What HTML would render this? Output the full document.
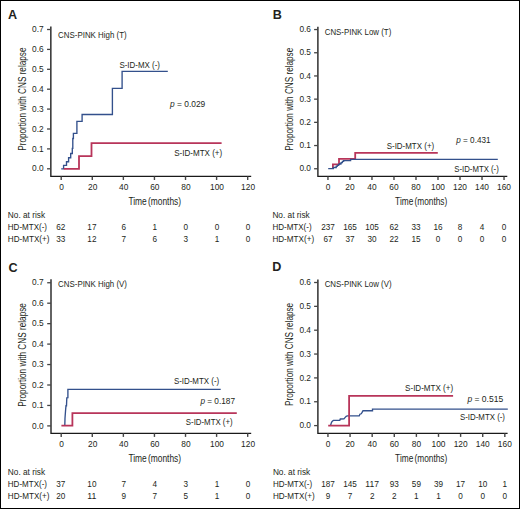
<!DOCTYPE html>
<html><head><meta charset="utf-8"><style>
html,body{margin:0;padding:0;background:#fff;}
body{width:520px;height:509px;overflow:hidden;}
.frame{position:absolute;left:0;top:0;width:518px;height:507px;border:1px solid #000;background:#fff;}
svg{position:absolute;left:0;top:0;}
text{font-family:"Liberation Sans", sans-serif;fill:#231f20;}
</style></head><body><div class="frame"></div>
<svg width="520" height="509" viewBox="0 0 520 509">
<path d="M50.85,26.4 L50.85,176.4 L251.2,176.4" fill="none" stroke="#1a1a1a" stroke-width="1.35" stroke-linejoin="miter"/>
<line x1="47.05" y1="168.8" x2="50.85" y2="168.8" stroke="#444" stroke-width="1.3"/>
<text x="43.6" y="171.4" font-size="9.4" text-anchor="end" textLength="11.6" lengthAdjust="spacingAndGlyphs">0.0</text>
<line x1="47.05" y1="148.9" x2="50.85" y2="148.9" stroke="#444" stroke-width="1.3"/>
<text x="43.6" y="151.5" font-size="9.4" text-anchor="end" textLength="11.6" lengthAdjust="spacingAndGlyphs">0.1</text>
<line x1="47.05" y1="129" x2="50.85" y2="129" stroke="#444" stroke-width="1.3"/>
<text x="43.6" y="131.6" font-size="9.4" text-anchor="end" textLength="11.6" lengthAdjust="spacingAndGlyphs">0.2</text>
<line x1="47.05" y1="109.1" x2="50.85" y2="109.1" stroke="#444" stroke-width="1.3"/>
<text x="43.6" y="111.7" font-size="9.4" text-anchor="end" textLength="11.6" lengthAdjust="spacingAndGlyphs">0.3</text>
<line x1="47.05" y1="89.2" x2="50.85" y2="89.2" stroke="#444" stroke-width="1.3"/>
<text x="43.6" y="91.8" font-size="9.4" text-anchor="end" textLength="11.6" lengthAdjust="spacingAndGlyphs">0.4</text>
<line x1="47.05" y1="69.3" x2="50.85" y2="69.3" stroke="#444" stroke-width="1.3"/>
<text x="43.6" y="71.9" font-size="9.4" text-anchor="end" textLength="11.6" lengthAdjust="spacingAndGlyphs">0.5</text>
<line x1="47.05" y1="49.4" x2="50.85" y2="49.4" stroke="#444" stroke-width="1.3"/>
<text x="43.6" y="52" font-size="9.4" text-anchor="end" textLength="11.6" lengthAdjust="spacingAndGlyphs">0.6</text>
<line x1="47.05" y1="29.5" x2="50.85" y2="29.5" stroke="#444" stroke-width="1.3"/>
<text x="43.6" y="32.1" font-size="9.4" text-anchor="end" textLength="11.6" lengthAdjust="spacingAndGlyphs">0.7</text>
<line x1="61.2" y1="176.4" x2="61.2" y2="180" stroke="#444" stroke-width="1.4"/>
<text x="61.6" y="190" font-size="9" text-anchor="middle" textLength="4.65" lengthAdjust="spacingAndGlyphs">0</text>
<line x1="92.28" y1="176.4" x2="92.28" y2="180" stroke="#444" stroke-width="1.4"/>
<text x="92.68" y="190" font-size="9" text-anchor="middle" textLength="9.3" lengthAdjust="spacingAndGlyphs">20</text>
<line x1="123.36" y1="176.4" x2="123.36" y2="180" stroke="#444" stroke-width="1.4"/>
<text x="123.76" y="190" font-size="9" text-anchor="middle" textLength="9.3" lengthAdjust="spacingAndGlyphs">40</text>
<line x1="154.44" y1="176.4" x2="154.44" y2="180" stroke="#444" stroke-width="1.4"/>
<text x="154.84" y="190" font-size="9" text-anchor="middle" textLength="9.3" lengthAdjust="spacingAndGlyphs">60</text>
<line x1="185.52" y1="176.4" x2="185.52" y2="180" stroke="#444" stroke-width="1.4"/>
<text x="185.92" y="190" font-size="9" text-anchor="middle" textLength="9.3" lengthAdjust="spacingAndGlyphs">80</text>
<line x1="216.6" y1="176.4" x2="216.6" y2="180" stroke="#444" stroke-width="1.4"/>
<text x="217" y="190" font-size="9" text-anchor="middle" textLength="13.95" lengthAdjust="spacingAndGlyphs">100</text>
<line x1="247.68" y1="176.4" x2="247.68" y2="180" stroke="#444" stroke-width="1.4"/>
<text x="248.08" y="190" font-size="9" text-anchor="middle" textLength="13.95" lengthAdjust="spacingAndGlyphs">120</text>
<text x="128.4" y="204.9" font-size="10.4" text-anchor="start" textLength="52.7" lengthAdjust="spacingAndGlyphs" word-spacing="-1.5">Time (months)</text>
<text x="25.8" y="150.8" font-size="10.4" text-anchor="start" textLength="103.3" lengthAdjust="spacingAndGlyphs" transform="rotate(-90 25.8 150.8)">Proportion with CNS relapse</text>
<text x="8" y="19" font-size="12.6" text-anchor="start" font-weight="bold" fill="#000">A</text>
<text x="58.1" y="37.6" font-size="9.1" text-anchor="start" textLength="68.5" lengthAdjust="spacingAndGlyphs">CNS-PINK High (T)</text>
<path d="M61.20,168.90 L63.60,168.90 L63.60,165.40 L66.50,165.40 L66.50,161.70 L68.60,161.70 L68.60,157.70 L70.70,157.70 L70.70,153.50 L72.30,153.50 L72.30,148.40 L72.80,148.40 L72.80,138.50 L73.40,138.50 L73.40,133.40 L76.90,133.40 L76.90,121.40 L82.10,121.40 L82.10,114.50 L112.40,114.50 L112.40,88.30 L122.10,88.30 L122.10,71.40 L167.80,71.40" fill="none" stroke="#33508c" stroke-width="1.35" stroke-linejoin="miter" stroke-linecap="butt"/>
<path d="M63.80,168.80 L79.00,168.80 L79.00,156.20 L91.50,156.20 L91.50,143.10 L221.60,143.10" fill="none" stroke="#b8355a" stroke-width="1.8" stroke-linejoin="miter" stroke-linecap="butt"/>
<text x="119.4" y="67.5" font-size="8.6" text-anchor="start" textLength="40.6" lengthAdjust="spacingAndGlyphs">S-ID-MX (-)</text>
<text x="174.2" y="156.4" font-size="8.6" text-anchor="start" textLength="48" lengthAdjust="spacingAndGlyphs">S-ID-MTX (+)</text>
<text x="170" y="107.2" font-size="8.6" textLength="35.3" lengthAdjust="spacingAndGlyphs"><tspan font-style="italic">p</tspan> = 0.029</text>
<text x="7.8" y="217.8" font-size="8.8" text-anchor="start" textLength="37.3" lengthAdjust="spacingAndGlyphs">No. at risk</text>
<text x="7.8" y="229.7" font-size="8.8" text-anchor="start" textLength="39.2" lengthAdjust="spacingAndGlyphs">HD-MTX(-)</text>
<text x="7.8" y="241.7" font-size="8.8" text-anchor="start" textLength="41.7" lengthAdjust="spacingAndGlyphs">HD-MTX(+)</text>
<text x="60.8" y="229.7" font-size="8.6" text-anchor="middle" textLength="9.1" lengthAdjust="spacingAndGlyphs">62</text>
<text x="91.88" y="229.7" font-size="8.6" text-anchor="middle" textLength="9.1" lengthAdjust="spacingAndGlyphs">17</text>
<text x="123.66" y="229.7" font-size="8.6" text-anchor="middle" textLength="4.55" lengthAdjust="spacingAndGlyphs">6</text>
<text x="154.74" y="229.7" font-size="8.6" text-anchor="middle" textLength="4.55" lengthAdjust="spacingAndGlyphs">1</text>
<text x="185.82" y="229.7" font-size="8.6" text-anchor="middle" textLength="4.55" lengthAdjust="spacingAndGlyphs">0</text>
<text x="216.9" y="229.7" font-size="8.6" text-anchor="middle" textLength="4.55" lengthAdjust="spacingAndGlyphs">0</text>
<text x="247.98" y="229.7" font-size="8.6" text-anchor="middle" textLength="4.55" lengthAdjust="spacingAndGlyphs">0</text>
<text x="60.8" y="241.7" font-size="8.6" text-anchor="middle" textLength="9.1" lengthAdjust="spacingAndGlyphs">33</text>
<text x="91.88" y="241.7" font-size="8.6" text-anchor="middle" textLength="9.1" lengthAdjust="spacingAndGlyphs">12</text>
<text x="123.66" y="241.7" font-size="8.6" text-anchor="middle" textLength="4.55" lengthAdjust="spacingAndGlyphs">7</text>
<text x="154.74" y="241.7" font-size="8.6" text-anchor="middle" textLength="4.55" lengthAdjust="spacingAndGlyphs">6</text>
<text x="185.82" y="241.7" font-size="8.6" text-anchor="middle" textLength="4.55" lengthAdjust="spacingAndGlyphs">3</text>
<text x="216.9" y="241.7" font-size="8.6" text-anchor="middle" textLength="4.55" lengthAdjust="spacingAndGlyphs">1</text>
<text x="247.98" y="241.7" font-size="8.6" text-anchor="middle" textLength="4.55" lengthAdjust="spacingAndGlyphs">0</text>
<path d="M317.9,26.7 L317.9,176.4 L507.3,176.4" fill="none" stroke="#1a1a1a" stroke-width="1.35" stroke-linejoin="miter"/>
<line x1="314.1" y1="168.75" x2="317.9" y2="168.75" stroke="#444" stroke-width="1.3"/>
<text x="311" y="171.35" font-size="9.4" text-anchor="end" textLength="11.6" lengthAdjust="spacingAndGlyphs">0.0</text>
<line x1="314.1" y1="145.55" x2="317.9" y2="145.55" stroke="#444" stroke-width="1.3"/>
<text x="311" y="148.15" font-size="9.4" text-anchor="end" textLength="11.6" lengthAdjust="spacingAndGlyphs">0.1</text>
<line x1="314.1" y1="122.35" x2="317.9" y2="122.35" stroke="#444" stroke-width="1.3"/>
<text x="311" y="124.95" font-size="9.4" text-anchor="end" textLength="11.6" lengthAdjust="spacingAndGlyphs">0.2</text>
<line x1="314.1" y1="99.15" x2="317.9" y2="99.15" stroke="#444" stroke-width="1.3"/>
<text x="311" y="101.75" font-size="9.4" text-anchor="end" textLength="11.6" lengthAdjust="spacingAndGlyphs">0.3</text>
<line x1="314.1" y1="75.95" x2="317.9" y2="75.95" stroke="#444" stroke-width="1.3"/>
<text x="311" y="78.55" font-size="9.4" text-anchor="end" textLength="11.6" lengthAdjust="spacingAndGlyphs">0.4</text>
<line x1="314.1" y1="52.75" x2="317.9" y2="52.75" stroke="#444" stroke-width="1.3"/>
<text x="311" y="55.35" font-size="9.4" text-anchor="end" textLength="11.6" lengthAdjust="spacingAndGlyphs">0.5</text>
<line x1="314.1" y1="29.55" x2="317.9" y2="29.55" stroke="#444" stroke-width="1.3"/>
<text x="311" y="32.15" font-size="9.4" text-anchor="end" textLength="11.6" lengthAdjust="spacingAndGlyphs">0.6</text>
<line x1="327.95" y1="176.4" x2="327.95" y2="180" stroke="#444" stroke-width="1.4"/>
<text x="327.95" y="190" font-size="9" text-anchor="middle" textLength="4.65" lengthAdjust="spacingAndGlyphs">0</text>
<line x1="349.96" y1="176.4" x2="349.96" y2="180" stroke="#444" stroke-width="1.4"/>
<text x="349.96" y="190" font-size="9" text-anchor="middle" textLength="9.3" lengthAdjust="spacingAndGlyphs">20</text>
<line x1="371.97" y1="176.4" x2="371.97" y2="180" stroke="#444" stroke-width="1.4"/>
<text x="371.97" y="190" font-size="9" text-anchor="middle" textLength="9.3" lengthAdjust="spacingAndGlyphs">40</text>
<line x1="393.98" y1="176.4" x2="393.98" y2="180" stroke="#444" stroke-width="1.4"/>
<text x="393.98" y="190" font-size="9" text-anchor="middle" textLength="9.3" lengthAdjust="spacingAndGlyphs">60</text>
<line x1="415.99" y1="176.4" x2="415.99" y2="180" stroke="#444" stroke-width="1.4"/>
<text x="415.99" y="190" font-size="9" text-anchor="middle" textLength="9.3" lengthAdjust="spacingAndGlyphs">80</text>
<line x1="438" y1="176.4" x2="438" y2="180" stroke="#444" stroke-width="1.4"/>
<text x="438" y="190" font-size="9" text-anchor="middle" textLength="13.95" lengthAdjust="spacingAndGlyphs">100</text>
<line x1="460.01" y1="176.4" x2="460.01" y2="180" stroke="#444" stroke-width="1.4"/>
<text x="460.01" y="190" font-size="9" text-anchor="middle" textLength="13.95" lengthAdjust="spacingAndGlyphs">120</text>
<line x1="482.02" y1="176.4" x2="482.02" y2="180" stroke="#444" stroke-width="1.4"/>
<text x="482.02" y="190" font-size="9" text-anchor="middle" textLength="13.95" lengthAdjust="spacingAndGlyphs">140</text>
<line x1="504.03" y1="176.4" x2="504.03" y2="180" stroke="#444" stroke-width="1.4"/>
<text x="504.03" y="190" font-size="9" text-anchor="middle" textLength="13.95" lengthAdjust="spacingAndGlyphs">160</text>
<text x="395.1" y="204.9" font-size="10.4" text-anchor="start" textLength="52.2" lengthAdjust="spacingAndGlyphs" word-spacing="-1.5">Time (months)</text>
<text x="293" y="150.8" font-size="10.4" text-anchor="start" textLength="103" lengthAdjust="spacingAndGlyphs" transform="rotate(-90 293 150.8)">Proportion with CNS relapse</text>
<text x="272.7" y="18.9" font-size="12.6" text-anchor="start" font-weight="bold" fill="#000">B</text>
<text x="324.7" y="35.2" font-size="9.1" text-anchor="start" textLength="66.6" lengthAdjust="spacingAndGlyphs">CNS-PINK Low (T)</text>
<path d="M332.90,168.60 L332.90,164.30 L339.00,164.30 L339.00,158.80 L355.20,158.80 L355.20,152.80 L437.80,152.80" fill="none" stroke="#b8355a" stroke-width="1.8" stroke-linejoin="miter" stroke-linecap="butt"/>
<path d="M328.20,168.60 L333.30,168.60 L333.30,167.50 L336.20,167.50 L336.20,166.30 L337.20,166.30 L337.20,165.40 L338.50,165.40 L338.50,164.40 L339.80,164.40 L339.80,163.70 L341.10,163.70 L341.10,162.60 L342.40,162.60 L342.40,161.40 L343.60,161.40 L343.60,160.60 L350.60,160.60 L350.60,159.40 L497.80,159.40" fill="none" stroke="#33508c" stroke-width="1.35" stroke-linejoin="miter" stroke-linecap="butt"/>
<text x="386.7" y="149" font-size="8.6" text-anchor="start" textLength="47.5" lengthAdjust="spacingAndGlyphs">S-ID-MTX (+)</text>
<text x="454.3" y="171.7" font-size="8.6" text-anchor="start" textLength="44.5" lengthAdjust="spacingAndGlyphs">S-ID-MTX (-)</text>
<text x="456.3" y="143" font-size="8.6" textLength="34.2" lengthAdjust="spacingAndGlyphs"><tspan font-style="italic">p</tspan> = 0.431</text>
<text x="272.4" y="217.8" font-size="8.8" text-anchor="start" textLength="37.3" lengthAdjust="spacingAndGlyphs">No. at risk</text>
<text x="272.4" y="229.7" font-size="8.8" text-anchor="start" textLength="39.2" lengthAdjust="spacingAndGlyphs">HD-MTX(-)</text>
<text x="272.4" y="241.7" font-size="8.8" text-anchor="start" textLength="41.7" lengthAdjust="spacingAndGlyphs">HD-MTX(+)</text>
<text x="327.95" y="229.7" font-size="8.6" text-anchor="middle" textLength="13.65" lengthAdjust="spacingAndGlyphs">237</text>
<text x="349.96" y="229.7" font-size="8.6" text-anchor="middle" textLength="13.65" lengthAdjust="spacingAndGlyphs">165</text>
<text x="371.97" y="229.7" font-size="8.6" text-anchor="middle" textLength="13.65" lengthAdjust="spacingAndGlyphs">105</text>
<text x="393.98" y="229.7" font-size="8.6" text-anchor="middle" textLength="9.1" lengthAdjust="spacingAndGlyphs">62</text>
<text x="415.99" y="229.7" font-size="8.6" text-anchor="middle" textLength="9.1" lengthAdjust="spacingAndGlyphs">33</text>
<text x="438" y="229.7" font-size="8.6" text-anchor="middle" textLength="9.1" lengthAdjust="spacingAndGlyphs">16</text>
<text x="460.01" y="229.7" font-size="8.6" text-anchor="middle" textLength="4.55" lengthAdjust="spacingAndGlyphs">8</text>
<text x="482.02" y="229.7" font-size="8.6" text-anchor="middle" textLength="4.55" lengthAdjust="spacingAndGlyphs">4</text>
<text x="504.03" y="229.7" font-size="8.6" text-anchor="middle" textLength="4.55" lengthAdjust="spacingAndGlyphs">0</text>
<text x="327.95" y="241.7" font-size="8.6" text-anchor="middle" textLength="9.1" lengthAdjust="spacingAndGlyphs">67</text>
<text x="349.96" y="241.7" font-size="8.6" text-anchor="middle" textLength="9.1" lengthAdjust="spacingAndGlyphs">37</text>
<text x="371.97" y="241.7" font-size="8.6" text-anchor="middle" textLength="9.1" lengthAdjust="spacingAndGlyphs">30</text>
<text x="393.98" y="241.7" font-size="8.6" text-anchor="middle" textLength="9.1" lengthAdjust="spacingAndGlyphs">22</text>
<text x="415.99" y="241.7" font-size="8.6" text-anchor="middle" textLength="9.1" lengthAdjust="spacingAndGlyphs">15</text>
<text x="438" y="241.7" font-size="8.6" text-anchor="middle" textLength="4.55" lengthAdjust="spacingAndGlyphs">0</text>
<text x="460.01" y="241.7" font-size="8.6" text-anchor="middle" textLength="4.55" lengthAdjust="spacingAndGlyphs">0</text>
<text x="482.02" y="241.7" font-size="8.6" text-anchor="middle" textLength="4.55" lengthAdjust="spacingAndGlyphs">0</text>
<text x="504.03" y="241.7" font-size="8.6" text-anchor="middle" textLength="4.55" lengthAdjust="spacingAndGlyphs">0</text>
<path d="M51,279.2 L51,433.3 L251.2,433.3" fill="none" stroke="#1a1a1a" stroke-width="1.35" stroke-linejoin="miter"/>
<line x1="47.2" y1="425.9" x2="51" y2="425.9" stroke="#444" stroke-width="1.3"/>
<text x="43.6" y="428.5" font-size="9.4" text-anchor="end" textLength="11.6" lengthAdjust="spacingAndGlyphs">0.0</text>
<line x1="47.2" y1="405.45" x2="51" y2="405.45" stroke="#444" stroke-width="1.3"/>
<text x="43.6" y="408.05" font-size="9.4" text-anchor="end" textLength="11.6" lengthAdjust="spacingAndGlyphs">0.1</text>
<line x1="47.2" y1="385" x2="51" y2="385" stroke="#444" stroke-width="1.3"/>
<text x="43.6" y="387.6" font-size="9.4" text-anchor="end" textLength="11.6" lengthAdjust="spacingAndGlyphs">0.2</text>
<line x1="47.2" y1="364.55" x2="51" y2="364.55" stroke="#444" stroke-width="1.3"/>
<text x="43.6" y="367.15" font-size="9.4" text-anchor="end" textLength="11.6" lengthAdjust="spacingAndGlyphs">0.3</text>
<line x1="47.2" y1="344.1" x2="51" y2="344.1" stroke="#444" stroke-width="1.3"/>
<text x="43.6" y="346.7" font-size="9.4" text-anchor="end" textLength="11.6" lengthAdjust="spacingAndGlyphs">0.4</text>
<line x1="47.2" y1="323.65" x2="51" y2="323.65" stroke="#444" stroke-width="1.3"/>
<text x="43.6" y="326.25" font-size="9.4" text-anchor="end" textLength="11.6" lengthAdjust="spacingAndGlyphs">0.5</text>
<line x1="47.2" y1="303.2" x2="51" y2="303.2" stroke="#444" stroke-width="1.3"/>
<text x="43.6" y="305.8" font-size="9.4" text-anchor="end" textLength="11.6" lengthAdjust="spacingAndGlyphs">0.6</text>
<line x1="47.2" y1="282.75" x2="51" y2="282.75" stroke="#444" stroke-width="1.3"/>
<text x="43.6" y="285.35" font-size="9.4" text-anchor="end" textLength="11.6" lengthAdjust="spacingAndGlyphs">0.7</text>
<line x1="61.2" y1="433.3" x2="61.2" y2="436.9" stroke="#444" stroke-width="1.4"/>
<text x="61.6" y="447.1" font-size="9" text-anchor="middle" textLength="4.65" lengthAdjust="spacingAndGlyphs">0</text>
<line x1="92.28" y1="433.3" x2="92.28" y2="436.9" stroke="#444" stroke-width="1.4"/>
<text x="92.68" y="447.1" font-size="9" text-anchor="middle" textLength="9.3" lengthAdjust="spacingAndGlyphs">20</text>
<line x1="123.36" y1="433.3" x2="123.36" y2="436.9" stroke="#444" stroke-width="1.4"/>
<text x="123.76" y="447.1" font-size="9" text-anchor="middle" textLength="9.3" lengthAdjust="spacingAndGlyphs">40</text>
<line x1="154.44" y1="433.3" x2="154.44" y2="436.9" stroke="#444" stroke-width="1.4"/>
<text x="154.84" y="447.1" font-size="9" text-anchor="middle" textLength="9.3" lengthAdjust="spacingAndGlyphs">60</text>
<line x1="185.52" y1="433.3" x2="185.52" y2="436.9" stroke="#444" stroke-width="1.4"/>
<text x="185.92" y="447.1" font-size="9" text-anchor="middle" textLength="9.3" lengthAdjust="spacingAndGlyphs">80</text>
<line x1="216.6" y1="433.3" x2="216.6" y2="436.9" stroke="#444" stroke-width="1.4"/>
<text x="217" y="447.1" font-size="9" text-anchor="middle" textLength="13.95" lengthAdjust="spacingAndGlyphs">100</text>
<line x1="247.68" y1="433.3" x2="247.68" y2="436.9" stroke="#444" stroke-width="1.4"/>
<text x="248.08" y="447.1" font-size="9" text-anchor="middle" textLength="13.95" lengthAdjust="spacingAndGlyphs">120</text>
<text x="128.4" y="461.9" font-size="10.4" text-anchor="start" textLength="52.7" lengthAdjust="spacingAndGlyphs" word-spacing="-1.5">Time (months)</text>
<text x="25.8" y="406.7" font-size="10.4" text-anchor="start" textLength="103.6" lengthAdjust="spacingAndGlyphs" transform="rotate(-90 25.8 406.7)">Proportion with CNS relapse</text>
<text x="8.4" y="271.9" font-size="12.6" text-anchor="start" font-weight="bold" fill="#000">C</text>
<text x="58.1" y="287.4" font-size="9.1" text-anchor="start" textLength="68.9" lengthAdjust="spacingAndGlyphs">CNS-PINK High (V)</text>
<path d="M64.80,425.60 L65.00,418.20 L65.60,410.00 L66.00,405.70 L66.50,405.70 L66.80,397.80 L67.90,397.60 L67.90,389.40 L220.70,389.40" fill="none" stroke="#33508c" stroke-width="1.35" stroke-linejoin="miter" stroke-linecap="butt"/>
<path d="M61.40,425.60 L72.40,425.60 L72.40,413.10 L236.80,413.10" fill="none" stroke="#b8355a" stroke-width="1.8" stroke-linejoin="miter" stroke-linecap="butt"/>
<text x="173.9" y="384.2" font-size="8.6" text-anchor="start" textLength="45.3" lengthAdjust="spacingAndGlyphs">S-ID-MTX (-)</text>
<text x="185.8" y="424.9" font-size="8.6" text-anchor="start" textLength="46.9" lengthAdjust="spacingAndGlyphs">S-ID-MTX (+)</text>
<text x="200.4" y="403.8" font-size="8.6" textLength="34.6" lengthAdjust="spacingAndGlyphs"><tspan font-style="italic">p</tspan> = 0.187</text>
<text x="7.8" y="474.9" font-size="8.8" text-anchor="start" textLength="37.3" lengthAdjust="spacingAndGlyphs">No. at risk</text>
<text x="7.8" y="486.8" font-size="8.8" text-anchor="start" textLength="39.2" lengthAdjust="spacingAndGlyphs">HD-MTX(-)</text>
<text x="7.8" y="498.8" font-size="8.8" text-anchor="start" textLength="41.7" lengthAdjust="spacingAndGlyphs">HD-MTX(+)</text>
<text x="60.8" y="486.8" font-size="8.6" text-anchor="middle" textLength="9.1" lengthAdjust="spacingAndGlyphs">37</text>
<text x="91.88" y="486.8" font-size="8.6" text-anchor="middle" textLength="9.1" lengthAdjust="spacingAndGlyphs">10</text>
<text x="123.66" y="486.8" font-size="8.6" text-anchor="middle" textLength="4.55" lengthAdjust="spacingAndGlyphs">7</text>
<text x="154.74" y="486.8" font-size="8.6" text-anchor="middle" textLength="4.55" lengthAdjust="spacingAndGlyphs">4</text>
<text x="185.82" y="486.8" font-size="8.6" text-anchor="middle" textLength="4.55" lengthAdjust="spacingAndGlyphs">3</text>
<text x="216.9" y="486.8" font-size="8.6" text-anchor="middle" textLength="4.55" lengthAdjust="spacingAndGlyphs">1</text>
<text x="247.98" y="486.8" font-size="8.6" text-anchor="middle" textLength="4.55" lengthAdjust="spacingAndGlyphs">0</text>
<text x="60.8" y="498.8" font-size="8.6" text-anchor="middle" textLength="9.1" lengthAdjust="spacingAndGlyphs">20</text>
<text x="91.88" y="498.8" font-size="8.6" text-anchor="middle" textLength="9.1" lengthAdjust="spacingAndGlyphs">11</text>
<text x="123.66" y="498.8" font-size="8.6" text-anchor="middle" textLength="4.55" lengthAdjust="spacingAndGlyphs">9</text>
<text x="154.74" y="498.8" font-size="8.6" text-anchor="middle" textLength="4.55" lengthAdjust="spacingAndGlyphs">7</text>
<text x="185.82" y="498.8" font-size="8.6" text-anchor="middle" textLength="4.55" lengthAdjust="spacingAndGlyphs">5</text>
<text x="216.9" y="498.8" font-size="8.6" text-anchor="middle" textLength="4.55" lengthAdjust="spacingAndGlyphs">1</text>
<text x="247.98" y="498.8" font-size="8.6" text-anchor="middle" textLength="4.55" lengthAdjust="spacingAndGlyphs">0</text>
<path d="M317.9,279.4 L317.9,433.3 L507.6,433.3" fill="none" stroke="#1a1a1a" stroke-width="1.35" stroke-linejoin="miter"/>
<line x1="314.1" y1="425.6" x2="317.9" y2="425.6" stroke="#444" stroke-width="1.3"/>
<text x="311" y="428.2" font-size="9.4" text-anchor="end" textLength="11.6" lengthAdjust="spacingAndGlyphs">0.0</text>
<line x1="314.1" y1="401.75" x2="317.9" y2="401.75" stroke="#444" stroke-width="1.3"/>
<text x="311" y="404.35" font-size="9.4" text-anchor="end" textLength="11.6" lengthAdjust="spacingAndGlyphs">0.1</text>
<line x1="314.1" y1="377.9" x2="317.9" y2="377.9" stroke="#444" stroke-width="1.3"/>
<text x="311" y="380.5" font-size="9.4" text-anchor="end" textLength="11.6" lengthAdjust="spacingAndGlyphs">0.2</text>
<line x1="314.1" y1="354.05" x2="317.9" y2="354.05" stroke="#444" stroke-width="1.3"/>
<text x="311" y="356.65" font-size="9.4" text-anchor="end" textLength="11.6" lengthAdjust="spacingAndGlyphs">0.3</text>
<line x1="314.1" y1="330.2" x2="317.9" y2="330.2" stroke="#444" stroke-width="1.3"/>
<text x="311" y="332.8" font-size="9.4" text-anchor="end" textLength="11.6" lengthAdjust="spacingAndGlyphs">0.4</text>
<line x1="314.1" y1="306.35" x2="317.9" y2="306.35" stroke="#444" stroke-width="1.3"/>
<text x="311" y="308.95" font-size="9.4" text-anchor="end" textLength="11.6" lengthAdjust="spacingAndGlyphs">0.5</text>
<line x1="314.1" y1="282.5" x2="317.9" y2="282.5" stroke="#444" stroke-width="1.3"/>
<text x="311" y="285.1" font-size="9.4" text-anchor="end" textLength="11.6" lengthAdjust="spacingAndGlyphs">0.6</text>
<line x1="327.95" y1="433.3" x2="327.95" y2="436.9" stroke="#444" stroke-width="1.4"/>
<text x="327.95" y="447.1" font-size="9" text-anchor="middle" textLength="4.65" lengthAdjust="spacingAndGlyphs">0</text>
<line x1="350.06" y1="433.3" x2="350.06" y2="436.9" stroke="#444" stroke-width="1.4"/>
<text x="350.06" y="447.1" font-size="9" text-anchor="middle" textLength="9.3" lengthAdjust="spacingAndGlyphs">20</text>
<line x1="372.17" y1="433.3" x2="372.17" y2="436.9" stroke="#444" stroke-width="1.4"/>
<text x="372.17" y="447.1" font-size="9" text-anchor="middle" textLength="9.3" lengthAdjust="spacingAndGlyphs">40</text>
<line x1="394.28" y1="433.3" x2="394.28" y2="436.9" stroke="#444" stroke-width="1.4"/>
<text x="394.28" y="447.1" font-size="9" text-anchor="middle" textLength="9.3" lengthAdjust="spacingAndGlyphs">60</text>
<line x1="416.39" y1="433.3" x2="416.39" y2="436.9" stroke="#444" stroke-width="1.4"/>
<text x="416.39" y="447.1" font-size="9" text-anchor="middle" textLength="9.3" lengthAdjust="spacingAndGlyphs">80</text>
<line x1="438.5" y1="433.3" x2="438.5" y2="436.9" stroke="#444" stroke-width="1.4"/>
<text x="438.5" y="447.1" font-size="9" text-anchor="middle" textLength="13.95" lengthAdjust="spacingAndGlyphs">100</text>
<line x1="460.61" y1="433.3" x2="460.61" y2="436.9" stroke="#444" stroke-width="1.4"/>
<text x="460.61" y="447.1" font-size="9" text-anchor="middle" textLength="13.95" lengthAdjust="spacingAndGlyphs">120</text>
<line x1="482.72" y1="433.3" x2="482.72" y2="436.9" stroke="#444" stroke-width="1.4"/>
<text x="482.72" y="447.1" font-size="9" text-anchor="middle" textLength="13.95" lengthAdjust="spacingAndGlyphs">140</text>
<line x1="504.83" y1="433.3" x2="504.83" y2="436.9" stroke="#444" stroke-width="1.4"/>
<text x="504.83" y="447.1" font-size="9" text-anchor="middle" textLength="13.95" lengthAdjust="spacingAndGlyphs">160</text>
<text x="395.1" y="461.9" font-size="10.4" text-anchor="start" textLength="52.2" lengthAdjust="spacingAndGlyphs" word-spacing="-1.5">Time (months)</text>
<text x="293" y="405.9" font-size="10.4" text-anchor="start" textLength="103" lengthAdjust="spacingAndGlyphs" transform="rotate(-90 293 405.9)">Proportion with CNS relapse</text>
<text x="272.3" y="271" font-size="12.6" text-anchor="start" font-weight="bold" fill="#000">D</text>
<text x="324.7" y="287.4" font-size="9.1" text-anchor="start" textLength="66.9" lengthAdjust="spacingAndGlyphs">CNS-PINK Low (V)</text>
<path d="M330.60,425.50 L331.20,423.20 L331.80,421.90 L332.60,421.00 L333.50,420.40 L339.80,420.30 L340.30,419.00 L343.90,418.90 L345.00,417.60 L346.20,416.30 L347.30,415.90 L359.20,415.90 L359.90,414.20 L361.20,413.80 L362.10,412.40 L363.00,410.70 L372.50,410.70 L372.50,409.10 L507.80,409.10" fill="none" stroke="#33508c" stroke-width="1.35" stroke-linejoin="miter" stroke-linecap="butt"/>
<path d="M328.20,425.60 L349.10,425.60 L349.10,395.80 L453.10,395.80" fill="none" stroke="#b8355a" stroke-width="1.8" stroke-linejoin="miter" stroke-linecap="butt"/>
<text x="405.1" y="390.7" font-size="8.6" text-anchor="start" textLength="48" lengthAdjust="spacingAndGlyphs">S-ID-MTX (+)</text>
<text x="460" y="420" font-size="8.6" text-anchor="start" textLength="45" lengthAdjust="spacingAndGlyphs">S-ID-MTX (-)</text>
<text x="467.4" y="402.2" font-size="8.6" textLength="35.8" lengthAdjust="spacingAndGlyphs"><tspan font-style="italic">p</tspan> = 0.515</text>
<text x="272.9" y="474.9" font-size="8.8" text-anchor="start" textLength="37.3" lengthAdjust="spacingAndGlyphs">No. at risk</text>
<text x="272.9" y="486.8" font-size="8.8" text-anchor="start" textLength="39.2" lengthAdjust="spacingAndGlyphs">HD-MTX(-)</text>
<text x="272.9" y="498.8" font-size="8.8" text-anchor="start" textLength="41.7" lengthAdjust="spacingAndGlyphs">HD-MTX(+)</text>
<text x="327.95" y="486.8" font-size="8.6" text-anchor="middle" textLength="13.65" lengthAdjust="spacingAndGlyphs">187</text>
<text x="350.06" y="486.8" font-size="8.6" text-anchor="middle" textLength="13.65" lengthAdjust="spacingAndGlyphs">145</text>
<text x="372.17" y="486.8" font-size="8.6" text-anchor="middle" textLength="13.65" lengthAdjust="spacingAndGlyphs">117</text>
<text x="394.28" y="486.8" font-size="8.6" text-anchor="middle" textLength="9.1" lengthAdjust="spacingAndGlyphs">93</text>
<text x="416.39" y="486.8" font-size="8.6" text-anchor="middle" textLength="9.1" lengthAdjust="spacingAndGlyphs">59</text>
<text x="438.5" y="486.8" font-size="8.6" text-anchor="middle" textLength="9.1" lengthAdjust="spacingAndGlyphs">39</text>
<text x="460.61" y="486.8" font-size="8.6" text-anchor="middle" textLength="9.1" lengthAdjust="spacingAndGlyphs">17</text>
<text x="482.72" y="486.8" font-size="8.6" text-anchor="middle" textLength="9.1" lengthAdjust="spacingAndGlyphs">10</text>
<text x="504.83" y="486.8" font-size="8.6" text-anchor="middle" textLength="4.55" lengthAdjust="spacingAndGlyphs">1</text>
<text x="327.95" y="498.8" font-size="8.6" text-anchor="middle" textLength="4.55" lengthAdjust="spacingAndGlyphs">9</text>
<text x="350.06" y="498.8" font-size="8.6" text-anchor="middle" textLength="4.55" lengthAdjust="spacingAndGlyphs">7</text>
<text x="372.17" y="498.8" font-size="8.6" text-anchor="middle" textLength="4.55" lengthAdjust="spacingAndGlyphs">2</text>
<text x="394.28" y="498.8" font-size="8.6" text-anchor="middle" textLength="4.55" lengthAdjust="spacingAndGlyphs">2</text>
<text x="416.39" y="498.8" font-size="8.6" text-anchor="middle" textLength="4.55" lengthAdjust="spacingAndGlyphs">1</text>
<text x="438.5" y="498.8" font-size="8.6" text-anchor="middle" textLength="4.55" lengthAdjust="spacingAndGlyphs">1</text>
<text x="460.61" y="498.8" font-size="8.6" text-anchor="middle" textLength="4.55" lengthAdjust="spacingAndGlyphs">0</text>
<text x="482.72" y="498.8" font-size="8.6" text-anchor="middle" textLength="4.55" lengthAdjust="spacingAndGlyphs">0</text>
<text x="504.83" y="498.8" font-size="8.6" text-anchor="middle" textLength="4.55" lengthAdjust="spacingAndGlyphs">0</text>
</svg></body></html>
